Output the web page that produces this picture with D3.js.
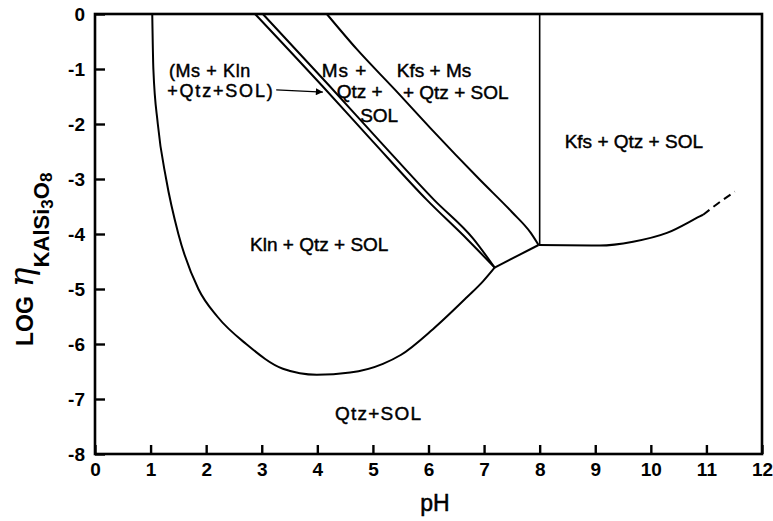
<!DOCTYPE html>
<html>
<head>
<meta charset="utf-8">
<script src="https://cdn.jsdelivr.net/npm/d3@7"></script>
<style>
  html, body { margin: 0; padding: 0; background: #fff; }
  svg { display: block; }
  text { font-family: "Liberation Sans", Arial, sans-serif; fill: #000; }
</style>
</head>
<body>
<svg id="chart" width="773" height="521"></svg>
<script>
// Axis ticks
const xTicks = [0, 1, 2, 3, 4, 5, 6, 7, 8, 9, 10, 11, 12];
const yTicks = [0, -1, -2, -3, -4, -5, -6, -7, -8];

// Phase boundaries, [pH, log activity]
const qtzSolBoundary = [
  [1.03, 0], [1.05, -1], [1.13, -2], [1.28, -3], [1.5, -4], [1.86, -5],
  [2.2, -5.5], [2.72, -6.0], [3.38, -6.45], [3.99, -6.56], [4.59, -6.52],
  [5.18, -6.36], [5.5, -6.2], [6.08, -5.73], [6.69, -5.15], [6.98, -4.86],
  [7.19, -4.61]
];
const msKlnOuter = [
  [2.88, 0], [4.09, -1.31], [5.0, -2.32], [5.97, -3.38], [6.7, -4.1], [7.19, -4.61]
];
const msKlnInner = [
  [3.02, 0], [4.22, -1.31], [5.13, -2.32], [6.1, -3.38], [6.8, -4.08], [7.19, -4.61]
];
const kfsMsBoundary = [
  [4.17, 0], [4.71, -0.64], [5.4, -1.38], [6.03, -2.07], [6.92, -3.01],
  [7.5, -3.6], [7.84, -3.98], [7.98, -4.2]
];
const tripleLink = [[7.19, -4.61], [7.98, -4.2]];
const kfsVertical = [[8.0, -4.2], [8.0, 0]];
const kfsQtzBoundary = [
  [7.98, -4.2], [9.08, -4.21], [9.68, -4.14], [10.29, -3.98], [10.88, -3.68], [10.94, -3.65]
];
const kfsQtzExtrapolated = [[10.94, -3.65], [11.2, -3.45], [11.51, -3.23]];

// Field labels: [pH, log activity, text, font size, letter spacing]
const fieldLabels = [
  [1.33, -1.14, "(Ms + Kln", 18, 0.6],
  [1.30, -1.51, "+Qtz+SOL)", 18, 1.8],
  [4.08, -1.15, "Ms +", 19, 1],
  [4.35, -1.53, "Qtz +", 19, 0],
  [4.77, -1.96, "SOL", 19, 0],
  [5.43, -1.15, "Kfs + Ms", 19, 0],
  [5.54, -1.54, "+ Qtz + SOL", 19, 0],
  [8.45, -2.43, "Kfs + Qtz + SOL", 19, 0],
  [2.79, -4.3, "Kln + Qtz + SOL", 19, 0],
  [4.32, -7.38, "Qtz+SOL", 19, 1.2]
];
const arrowFrom = [3.26, -1.38];
const arrowTo = [4.1, -1.42];

const svg = d3.select("#chart");
const x = d3.scaleLinear().domain([0, 12]).range([95, 762]);
const y = d3.scaleLinear().domain([-8, 0]).range([454, 14]);

const line = d3.line().x(d => x(d[0])).y(d => y(d[1]));
const smooth = d3.line().x(d => x(d[0])).y(d => y(d[1])).curve(d3.curveMonotoneX);

// Frame
svg.append("rect")
  .attr("x", x(0)).attr("y", y(0))
  .attr("width", x(12) - x(0)).attr("height", y(-8) - y(0))
  .attr("fill", "none").attr("stroke", "#000").attr("stroke-width", 2.6);

// Axes with inward ticks
const yAxis = d3.axisLeft(y).tickValues(yTicks).tickSize(-10).tickPadding(16)
  .tickFormat(d => String(d));
const gy = svg.append("g").attr("transform", `translate(${x(0)},0)`).call(yAxis);
gy.select(".domain").remove();
gy.selectAll(".tick line").attr("stroke", "#000").attr("stroke-width", 2.4);
gy.selectAll(".tick text")
  .attr("font-family", "Liberation Sans, Arial, sans-serif")
  .attr("font-size", 19).attr("font-weight", "bold").attr("dx", 6).attr("dy", "0.34em");

const xAxis = d3.axisBottom(x).tickValues(xTicks).tickSize(-9).tickPadding(6)
  .tickFormat(d => String(d));
const gx = svg.append("g").attr("transform", `translate(0,${y(-8)})`).call(xAxis);
gx.select(".domain").remove();
gx.selectAll(".tick line").attr("stroke", "#000").attr("stroke-width", 2.4);
gx.selectAll(".tick text")
  .attr("font-family", "Liberation Sans, Arial, sans-serif")
  .attr("font-size", 19).attr("font-weight", "bold").attr("dy", "0.85em");

// Boundary curves
const curves = svg.append("g").attr("fill", "none").attr("stroke", "#000");
curves.append("path").attr("d", smooth(qtzSolBoundary)).attr("stroke-width", 2);
curves.append("path").attr("d", smooth(msKlnOuter)).attr("stroke-width", 2);
curves.append("path").attr("d", smooth(msKlnInner)).attr("stroke-width", 2);
curves.append("path").attr("d", smooth(kfsMsBoundary)).attr("stroke-width", 2);
curves.append("path").attr("d", line(tripleLink)).attr("stroke-width", 2);
curves.append("path").attr("d", line(kfsVertical)).attr("stroke-width", 1.6);
curves.append("path").attr("d", smooth(kfsQtzBoundary)).attr("stroke-width", 2);
curves.append("path").attr("d", smooth(kfsQtzExtrapolated)).attr("stroke-width", 2)
  .attr("stroke-dasharray", "8,5");

// Arrow pointing to the narrow Ms + Kln field
svg.append("defs").append("marker")
  .attr("id", "head").attr("viewBox", "0 0 10 10")
  .attr("refX", 10).attr("refY", 5)
  .attr("markerWidth", 10).attr("markerHeight", 7)
  .attr("markerUnits", "userSpaceOnUse").attr("orient", "auto")
  .append("path").attr("d", "M0,0 L10,5 L0,10 Z").attr("fill", "#000");
svg.append("path").attr("d", line([arrowFrom, arrowTo]))
  .attr("stroke", "#000").attr("stroke-width", 1.2).attr("fill", "none")
  .attr("marker-end", "url(#head)");

// Field labels
svg.append("g").selectAll("text").data(fieldLabels).join("text")
  .attr("x", d => x(d[0])).attr("y", d => y(d[1]))
  .attr("font-size", d => d[3])
  .attr("letter-spacing", d => d[4])
  .attr("stroke", "#000").attr("stroke-width", 0.45)
  .text(d => d[2]);

// Axis titles
svg.append("text").attr("x", 435).attr("y", 511).attr("text-anchor", "middle")
  .attr("font-size", 23).attr("stroke", "#000").attr("stroke-width", 0.5).text("pH");

const yt = svg.append("text").attr("transform", "translate(33,346) rotate(-90)")
  .attr("font-size", 23).attr("font-weight", "bold");
yt.append("tspan").text("LOG");
yt.append("tspan").attr("dx", 9).attr("font-size", 33).attr("font-style", "italic")
  .attr("font-weight", "normal").attr("font-family", "DejaVu Serif, serif").text("η");
yt.append("tspan").attr("dy", 16).attr("font-size", 22).text("KAlSi");
yt.append("tspan").attr("dy", 4).attr("font-size", 17).text("3");
yt.append("tspan").attr("dy", -4).attr("font-size", 22).text("O");
yt.append("tspan").attr("dy", 3).attr("font-size", 17).text("8");
</script>
</body>
</html>
